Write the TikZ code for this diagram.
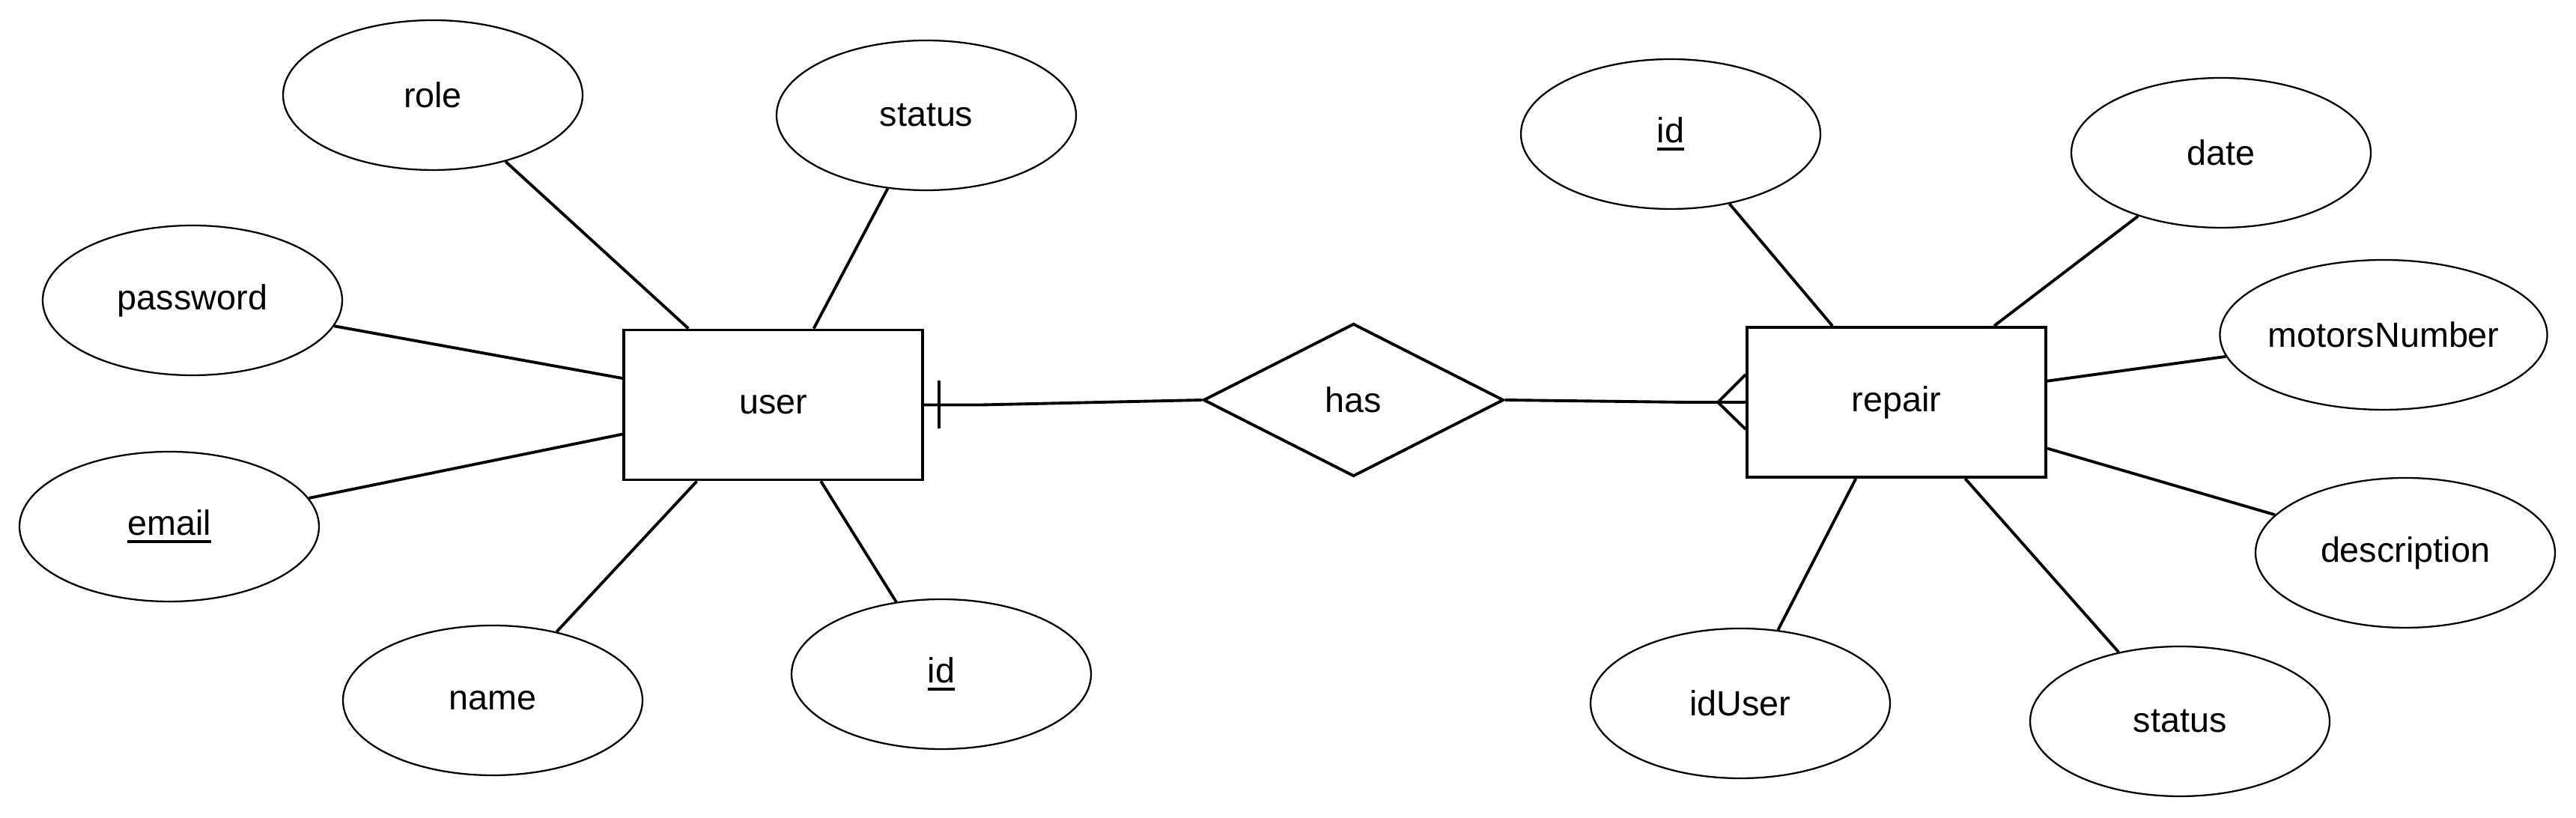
\documentclass[tikz,border=0pt]{standalone}
\usepackage{fontspec}
\setmainfont{Liberation Sans}
\usetikzlibrary{shapes.geometric}

% primary key attribute: thick line just under the word
\newcommand{\keyattr}[1]{\setbox0\hbox{#1}\rlap{\rule[-3pt]{\wd0}{1.1pt}}#1}

\begin{document}
\begin{tikzpicture}[line width=1.1pt,font=\fontsize{13.3}{16}\selectfont]
  \tikzstyle{entity}=[draw,rectangle,minimum width=3.99cm,minimum height=2cm,inner sep=0pt]
  \tikzstyle{attr}=[draw,ellipse,line width=0.65pt,minimum width=4cm,minimum height=2cm,inner sep=0pt]
  \tikzstyle{relation}=[draw,diamond,minimum width=4.01cm,minimum height=2.04cm,inner sep=0pt]

  \useasboundingbox (0,0) rectangle (34.4,10.92);

  % entities and relation
  \node[entity]   (user)   at (10.325,5.515) {user};
  \node[relation] (has)    at (18.075,5.58)  {has};
  \node[entity]   (repair) at (25.325,5.55)  {repair};

  % attributes of user
  \node[attr] (role)     at (5.78,9.65)  {role};
  \node[attr] (ustatus)  at (12.37,9.38) {status};
  \node[attr] (password) at (2.57,6.91)  {password};
  \node[attr] (email)    at (2.26,3.89)  {\keyattr{email}};
  \node[attr] (name)     at (6.58,1.57)  {name};
  \node[attr] (uid)      at (12.57,1.92) {\keyattr{id}};

  % attributes of repair
  \node[attr] (rid)           at (22.31,9.13) {\keyattr{id}};
  \node[attr] (date)          at (29.66,8.88) {date};
  \node[attr] (motorsNumber)  at (31.83,6.45) {motorsNumber};
  \node[attr] (description)   at (32.12,3.54) {description};
  \node[attr] (rstatus)       at (29.11,1.29) {status};
  \node[attr] (idUser)        at (23.24,1.53) {idUser};

  \path (role)     edge (user.138)
        (ustatus)  edge (user.62)
        (password) edge (user.170)
        (email)    edge (user.191)
        (name)     edge (user.225)
        (uid)      edge (user.302)
  ; %end path

  \path (rid)          edge (repair.130)
        (date)         edge (repair.38)
        (motorsNumber) edge (repair.8.5)
        (description)  edge (repair.343.6)
        (rstatus)      edge (repair.312)
        (idUser)       edge (repair.242)
  ; %end path

  % one user ...
  \draw (user.east) -- ++(0.77,0) -- (has.west);
  \draw ([xshift=0.2cm]user.east) +(0,0.32) -- +(0,-0.32);

  % ... has many repairs
  \draw (has.east) -- ([xshift=-0.82cm]repair.west) -- (repair.west);
  \draw ([yshift=0.37cm]repair.west) -- ([xshift=-0.37cm]repair.west)
        -- ([yshift=-0.36cm]repair.west);

\end{tikzpicture}
\end{document}
